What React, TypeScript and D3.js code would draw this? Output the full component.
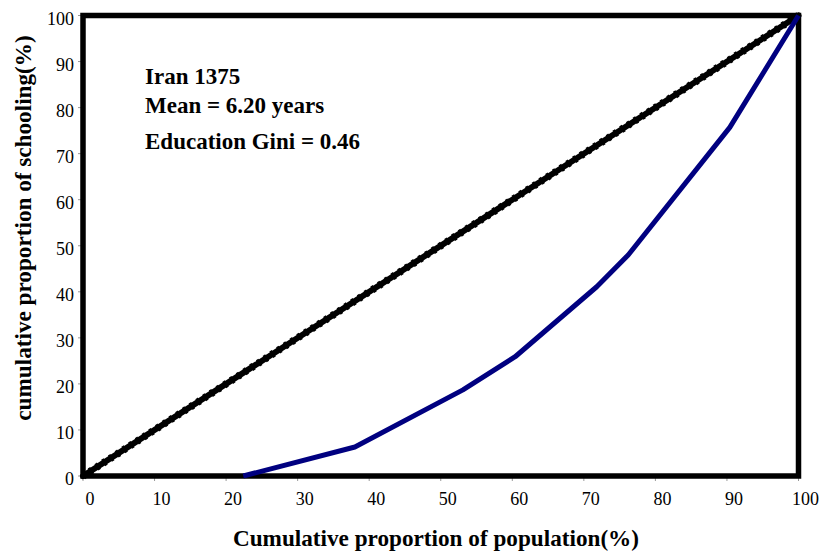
import * as d3 from 'd3'

// Lorenz curve of schooling, Iran 1375
const populationShare = [22.4, 38.0, 53.1, 60.4, 71.8, 76.2, 90.4, 100]
const schoolingShare = [0, 6.3, 18.7, 25.9, 41.1, 48.0, 75.7, 100]
const equalityLine = [[0, 0], [100, 100]]
const tickValues = [0, 10, 20, 30, 40, 50, 60, 70, 80, 90, 100]
const notes = ['Iran 1375', 'Mean = 6.20 years', 'Education Gini = 0.46']

export default function App() {
  const width = 824
  const height = 558
  const left = 83
  const right = 798.5
  const top = 15.5
  const bottom = 476

  const x = d3.scaleLinear().domain([0, 100]).range([left, right])
  const y = d3.scaleLinear().domain([0, 100]).range([bottom, top])

  const line = d3.line<[number, number]>()
    .x(d => x(d[0]))
    .y(d => y(d[1]))

  const lorenz = populationShare.map((p, i) => [p, schoolingShare[i]] as [number, number])

  const font = 'Liberation Serif, Times New Roman, serif'

  return (
    <svg width={width} height={height} style={{position: 'absolute', left: 0, top: 0}} fontFamily={font}>
      <rect width={width} height={height} fill={'#fff'} />

      {/* tick marks */}
      <g stroke={'#999'} strokeWidth={1}>
        {tickValues.map(t => (
          <line key={'xt' + t} x1={x(t)} x2={x(t)} y1={bottom} y2={bottom + 5} />
        ))}
        {tickValues.map(t => (
          <line key={'yt' + t} x1={left - 5} x2={left} y1={y(t)} y2={y(t)} />
        ))}
      </g>

      <rect
        x={left}
        y={top}
        width={right - left}
        height={bottom - top}
        fill={'none'}
        stroke={'#000'}
        strokeWidth={5.5}
      />

      {/* line of equality */}
      <path
        d={line(equalityLine as [number, number][]) ?? undefined}
        fill={'none'}
        stroke={'#000'}
        strokeWidth={6}
        strokeLinecap={'round'}
      />
      <path
        d={line(equalityLine as [number, number][]) ?? undefined}
        fill={'none'}
        stroke={'#000'}
        strokeWidth={7.5}
        strokeDasharray={'3 5'}
      />

      <path
        d={line(lorenz) ?? undefined}
        fill={'none'}
        stroke={'#000080'}
        strokeWidth={5}
        strokeLinejoin={'round'}
      />

      {/* tick labels */}
      <g fontSize={18} fill={'#000'}>
        {tickValues.map(t => (
          <text key={'xl' + t} x={x(t) + 7} y={505} textAnchor={'middle'}>{t}</text>
        ))}
        {tickValues.map(t => (
          <text key={'yl' + t} x={74} y={y(t) + 9} textAnchor={'end'}>{t}</text>
        ))}
      </g>

      <g fontWeight={700} fontSize={23.2} fill={'#000'}>
        <text x={436} y={546} textAnchor={'middle'}>
          Cumulative proportion of population(%)
        </text>
        <text transform={`translate(31, 228) rotate(-90)`} textAnchor={'middle'}>
          cumulative proportion of schooling(%)
        </text>
      </g>

      <g fontWeight={700} fontSize={23} fill={'#000'}>
        <text x={145} y={84}>{notes[0]}</text>
        <text x={145} y={113}>{notes[1]}</text>
        <text x={145} y={149}>{notes[2]}</text>
      </g>
    </svg>
  )
}
